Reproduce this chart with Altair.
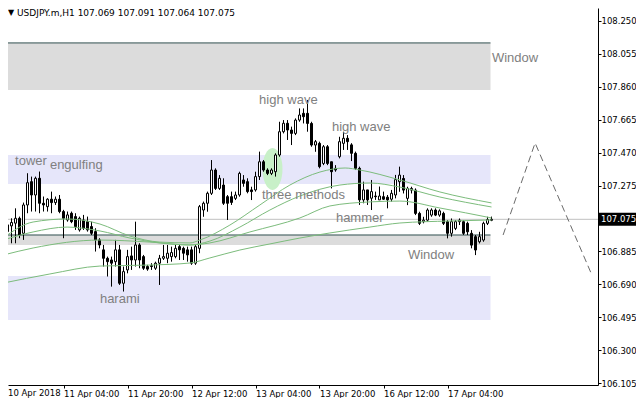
import json
import altair as alt
import pandas as pd

# ---------------- candles (H1, bar index 0..122) ----------------
opens = [107.022, 107.002, 107.036, 107.052, 107.081, 106.992, 107.160, 107.298, 107.219, 107.318,
         107.170, 107.150, 107.194, 107.174, 107.194, 107.121, 107.071, 107.111, 107.091, 107.012,
         107.071, 107.061, 107.032, 107.002, 106.953, 106.894, 106.844, 106.834, 106.824, 106.894,
         106.696, 106.775, 106.858, 106.834, 106.923, 106.854, 106.795, 106.800, 106.785, 106.815,
         106.844, 106.844, 106.854, 106.854, 106.913, 106.903, 106.894, 106.894, 106.815, 106.903,
         107.130, 107.170, 107.229, 107.367, 107.258, 107.278, 107.209, 107.209, 107.199, 107.219,
         107.308, 107.298, 107.249, 107.249, 107.328, 107.416, 107.367, 107.347, 107.357, 107.456,
         107.594, 107.644, 107.604, 107.584, 107.663, 107.703, 107.703, 107.643, 107.515, 107.525,
         107.406, 107.505, 107.416, 107.377, 107.446, 107.525, 107.555, 107.516, 107.466, 107.377,
         107.190, 107.249, 107.200, 107.213, 107.190, 107.209, 107.206, 107.194, 107.219, 107.298,
         107.317, 107.199, 107.248, 107.248, 107.110, 107.061, 107.070, 107.100, 107.130, 107.100,
         107.110, 107.061, 106.992, 107.021, 107.061, 107.061, 107.051, 106.992, 106.972, 106.942,
         106.952, 107.051, 107.069]
highs = [107.032, 107.061, 107.081, 107.140, 107.091, 107.174, 107.348, 107.328, 107.328, 107.358,
         107.210, 107.200, 107.239, 107.210, 107.219, 107.131, 107.121, 107.121, 107.111, 107.091,
         107.101, 107.091, 107.061, 107.022, 106.963, 106.923, 106.854, 106.854, 106.953, 106.923,
         106.795, 106.894, 106.913, 107.061, 106.933, 106.864, 106.805, 106.815, 106.824, 106.864,
         106.923, 106.923, 106.913, 106.923, 106.923, 106.913, 106.913, 106.913, 106.923, 107.160,
         107.180, 107.239, 107.426, 107.377, 107.337, 107.318, 107.219, 107.239, 107.239, 107.357,
         107.337, 107.318, 107.268, 107.357, 107.476, 107.426, 107.377, 107.377, 107.466, 107.653,
         107.663, 107.663, 107.624, 107.673, 107.732, 107.732, 107.782, 107.653, 107.545, 107.535,
         107.515, 107.515, 107.416, 107.396, 107.564, 107.594, 107.574, 107.526, 107.476, 107.387,
         107.298, 107.249, 107.308, 107.239, 107.269, 107.239, 107.219, 107.249, 107.338, 107.387,
         107.337, 107.268, 107.268, 107.258, 107.120, 107.090, 107.140, 107.140, 107.140, 107.134,
         107.120, 107.070, 107.080, 107.070, 107.080, 107.070, 107.061, 107.011, 106.982, 107.001,
         107.061, 107.090, 107.091]
lows = [106.992, 106.982, 106.933, 106.933, 106.963, 106.953, 107.111, 107.121, 107.121, 107.111,
        107.121, 107.121, 107.111, 107.160, 107.111, 106.963, 107.061, 107.052, 107.012, 107.002,
        107.012, 107.002, 106.982, 106.884, 106.903, 106.795, 106.736, 106.676, 106.795, 106.686,
        106.647, 106.755, 106.775, 106.795, 106.785, 106.775, 106.770, 106.775, 106.775, 106.686,
        106.834, 106.815, 106.824, 106.844, 106.834, 106.834, 106.824, 106.805, 106.805, 106.874,
        107.090, 107.120, 107.219, 107.249, 107.249, 107.160, 107.071, 107.160, 107.189, 107.209,
        107.268, 107.229, 107.189, 107.239, 107.308, 107.357, 107.337, 107.337, 107.328, 107.446,
        107.584, 107.545, 107.515, 107.574, 107.653, 107.643, 107.594, 107.505, 107.475, 107.377,
        107.396, 107.396, 107.258, 107.357, 107.436, 107.486, 107.486, 107.420, 107.367, 107.160,
        107.170, 107.160, 107.130, 107.190, 107.190, 107.190, 107.140, 107.180, 107.199, 107.238,
        107.228, 107.159, 107.228, 107.100, 107.041, 107.051, 107.061, 107.090, 107.094, 107.090,
        107.041, 106.962, 106.972, 107.011, 107.041, 106.982, 106.982, 106.903, 106.863, 106.932,
        106.942, 107.041, 107.064]
closes = [107.002, 107.042, 107.056, 107.081, 106.982, 107.160, 107.292, 107.219, 107.318, 107.170,
          107.160, 107.194, 107.174, 107.194, 107.121, 107.081, 107.101, 107.061, 107.032, 107.081,
          107.022, 107.012, 106.992, 106.953, 106.923, 106.844, 106.824, 106.815, 106.894, 106.696,
          106.765, 106.854, 106.834, 106.923, 106.834, 106.785, 106.780, 106.795, 106.815, 106.844,
          106.854, 106.874, 106.878, 106.903, 106.894, 106.874, 106.864, 106.815, 106.913, 107.150,
          107.170, 107.229, 107.367, 107.258, 107.318, 107.170, 107.170, 107.175, 107.219, 107.347,
          107.288, 107.239, 107.239, 107.328, 107.416, 107.367, 107.347, 107.367, 107.456, 107.594,
          107.644, 107.604, 107.584, 107.663, 107.693, 107.683, 107.643, 107.515, 107.535, 107.387,
          107.505, 107.406, 107.357, 107.367, 107.535, 107.555, 107.535, 107.466, 107.377, 107.190,
          107.249, 107.190, 107.239, 107.209, 107.213, 107.194, 107.190, 107.229, 107.310, 107.337,
          107.248, 107.258, 107.258, 107.110, 107.051, 107.070, 107.130, 107.130, 107.100, 107.125,
          107.051, 106.992, 107.061, 107.061, 107.070, 106.992, 107.001, 106.922, 106.893, 106.972,
          107.051, 107.074, 107.075]

# ---------------- moving averages (read at sample bars) ----------------
ma_fast_bar = [-0.1, 7.4, 15.9, 24.1, 31.6, 39.1, 46.6, 49.1, 56.6, 64.1, 71.6, 79.1, 85.4, 89.1, 99.1, 109.1, 122]
ma_fast_price = [106.964, 107.059, 107.077, 107.047, 106.976, 106.940, 106.935, 106.952, 107.041, 107.160,
                 107.278, 107.355, 107.379, 107.367, 107.308, 107.237, 107.172]
ma_mid_bar = [-0.1, 7.4, 15.9, 24.1, 31.6, 39.1, 46.6, 51.6, 59.1, 66.6, 74.1, 84.1, 91.6, 99.1, 109.1, 122]
ma_mid_price = [106.952, 107.000, 107.029, 107.006, 106.964, 106.935, 106.923, 106.946, 107.029, 107.130,
                107.213, 107.278, 107.290, 107.266, 107.207, 107.148]
ma_slow_bar = [-0.1, 7.4, 24.1, 36.6, 46.6, 51.6, 61.6, 74.1, 81.6, 91.6, 99.1, 109.1, 122]
ma_slow_price = [106.863, 106.905, 106.952, 106.940, 106.923, 106.935, 107.000, 107.083, 107.154, 107.178,
                 107.183, 107.142, 107.083]
ma_long_bar = [-0.1, 11.6, 24.1, 36.6, 46.6, 51.6, 59.1, 66.6, 74.1, 81.6, 91.6, 99.1, 111.6, 122]
ma_long_price = [106.697, 106.751, 106.798, 106.804, 106.816, 106.846, 106.893, 106.929, 106.964, 106.994,
                 107.029, 107.053, 107.065, 107.071]

# ---------------- zones / levels ----------------
zone_start = [-2, -2, -2, -2]
zone_end = [121.75, 121.75, 121.75, 121.75]
zone_top = [108.120, 107.456, 106.982, 106.739]
zone_bottom = [107.841, 107.284, 106.923, 106.478]
zone_color = ["#dcdcdc", "#e6e6fa", "#dcdcdc", "#e6e6fa"]
level_prices = [108.120, 106.982]
current_price = 107.075

# ---------------- annotations ----------------
note_text = ["tower", "engulfing", "harami", "high wave", "high wave", "three methods", "hammer", "Window", "Window"]
note_bar = [2.9, 11.6, 24.1, 63.9, 82.1, 64.6, 83.1, 101.1, 122.1]
note_price = [107.420, 107.397, 106.603, 107.782, 107.622, 107.219, 107.083, 106.863, 108.031]

highlight_bar = [67.25]
highlight_price = [107.373]

forecast_bar = [124.9, 132.9, 147.1]
forecast_price = [106.982, 107.527, 106.745]

# ---------------- axes ----------------
y_ticks = [108.250, 108.055, 107.860, 107.665, 107.470, 107.275, 106.885, 106.690, 106.495, 106.300, 106.105]
x_tick_bars = [15, 31, 47, 63, 79, 95, 111]
x_tick_labels = ["11 Apr 04:00", "11 Apr 20:00", "12 Apr 12:00", "13 Apr 04:00",
                 "13 Apr 20:00", "16 Apr 12:00", "17 Apr 04:00"]
first_label = "10 Apr 2018"
symbol_title = "USDJPY.m,H1"

# ---------------- build ----------------
W, H = 590, 377          # plot area (page x 8..598, y 8..385)
PAD_R, PAD_B = 38, 13    # whole chart 628 x 390 so the page does not overflow
FONT = "DejaVu Sans"

candles = pd.DataFrame({"bar": list(range(len(opens))), "o": opens, "h": highs, "l": lows, "c": closes})

ma_rows = []
for name, bs, ps in [("fast", ma_fast_bar, ma_fast_price), ("mid", ma_mid_bar, ma_mid_price),
                     ("slow", ma_slow_bar, ma_slow_price), ("long", ma_long_bar, ma_long_price)]:
    for b, p in zip(bs, ps):
        ma_rows.append({"ma": name, "bar": b, "price": p})
ma_df = pd.DataFrame(ma_rows)

zones = pd.DataFrame({"b0": zone_start, "b1": zone_end, "top": zone_top, "bot": zone_bottom, "col": zone_color})
levels = pd.DataFrame({"price": level_prices, "b0": zone_start[:2], "b1": zone_end[:2]})
cur = pd.DataFrame({"price": [current_price], "txt": [f"{current_price:.3f}"]})
notes = pd.DataFrame({"txt": note_text, "bar": note_bar, "price": note_price})
hl = pd.DataFrame({"bar": highlight_bar, "price": highlight_price})
fc = pd.DataFrame({"bar": forecast_bar, "price": forecast_price})
title_df = pd.DataFrame({"txt": [f"{symbol_title}  {opens[-1]:.3f} {highs[-1]:.3f} {lows[-1]:.3f} {closes[-1]:.3f}"]})
first_df = pd.DataFrame({"txt": [first_label]})

xs = alt.Scale(domain=[1.125, 148.625], nice=False, zero=False)
ys = alt.Scale(domain=[106.0932, 108.3270], nice=False, zero=False)

label_expr = f"{json.dumps(x_tick_labels)}[indexof({json.dumps(x_tick_bars)}, datum.value)]"
x_axis = alt.Axis(values=x_tick_bars, labelExpr=label_expr, grid=False, domainColor="black",
                  tickColor="black", tickSize=3, labelAlign="left", labelBaseline="top",
                  labelPadding=1, labelFont=FONT, labelFontSize=8.5, labelColor="black",
                  labelOverlap=False, labelFlush=False, title=None)
y_axis = alt.Axis(values=y_ticks, format=".3f", orient="right", grid=False, domainColor="black",
                  tickColor="black", tickSize=3, labelPadding=0, labelFont=FONT, labelFontSize=8.5,
                  labelColor="black", labelOverlap=False, labelFlush=False, title=None)


def X(f):
    return alt.X(f, type="quantitative", scale=xs, axis=x_axis)


def Y(f):
    return alt.Y(f, type="quantitative", scale=ys, axis=y_axis)


zone_layer = alt.Chart(zones).mark_rect().encode(
    x=X("b0"), x2="b1", y=Y("top"), y2="bot", fill=alt.Fill("col:N", scale=None))

level_layer = alt.Chart(levels).mark_rule(color="#2f4f4f", strokeWidth=1).encode(
    y=Y("price"), x=X("b0"), x2="b1")

price_line = alt.Chart(cur).mark_rule(color="#c0c0c0", strokeWidth=1).encode(y=Y("price"))

ellipse = alt.Chart(hl).mark_point(
    shape="M -0.476 0 A 0.476 1 0 1 0 0.476 0 A 0.476 1 0 1 0 -0.476 0 Z",
    filled=True, fill="#c8f0c8", opacity=1, strokeWidth=0, size=1764).encode(x=X("bar"), y=Y("price"))

wicks = alt.Chart(candles).mark_rule(color="black", strokeWidth=1).encode(x=X("bar"), y=Y("l"), y2="h")

bodies = alt.Chart(candles).transform_calculate(
    x0="datum.bar - 0.25", x1="datum.bar + 0.25"
).mark_rect(stroke="black", strokeWidth=1).encode(
    x=X("x0"), x2="x1", y=Y("o"), y2="c",
    fill=alt.condition("datum.c >= datum.o", alt.value("white"), alt.value("black")))

ma_layer = alt.Chart(ma_df).mark_line(color="#7cbc7c", strokeWidth=1, interpolate="monotone").encode(
    x=X("bar"), y=Y("price"), detail="ma:N")

note_layer = alt.Chart(notes).mark_text(
    align="left", baseline="middle", font="Liberation Sans", fontSize=13, color="#808080").encode(
    x=X("bar"), y=Y("price"), text="txt:N")

forecast = alt.Chart(fc).mark_line(color="#6a6a6a", strokeWidth=1, strokeDash=[7, 4]).encode(
    x=X("bar"), y=Y("price"))

tri = alt.Chart(title_df).mark_text(align="left", baseline="top", font=FONT, fontSize=8, color="black").encode(
    x=alt.value(0), y=alt.value(1), text=alt.value("▼"))
title_txt = alt.Chart(title_df).mark_text(align="left", baseline="top", font=FONT, fontSize=9, color="black").encode(
    x=alt.value(9), y=alt.value(1), text="txt:N")

first_txt = alt.Chart(first_df).mark_text(align="left", baseline="top", font=FONT, fontSize=8.5, color="black").encode(
    x=alt.value(0), y=alt.value(H + 4), text="txt:N")

cur_box = alt.Chart(cur).mark_rule(color="black", strokeWidth=13).encode(
    y=Y("price"), x=alt.value(W + 1), x2=alt.value(W + PAD_R))
cur_txt = alt.Chart(cur).mark_text(align="left", baseline="middle", font=FONT, fontSize=8.5, color="white").encode(
    y=Y("price"), x=alt.value(W + 3), text="txt:N")

chart = alt.layer(
    zone_layer, level_layer, price_line, ellipse, wicks, bodies, ma_layer,
    note_layer, forecast, tri, title_txt, first_txt, cur_box, cur_txt
).properties(
    width=W, height=H,
    autosize=alt.AutoSizeParams(type="none"),
    padding={"left": 0, "top": 0, "right": PAD_R, "bottom": PAD_B},
    background="white",
).configure_view(strokeWidth=0)

chart.save("out.html", embed_options={"renderer": "svg", "actions": False})
